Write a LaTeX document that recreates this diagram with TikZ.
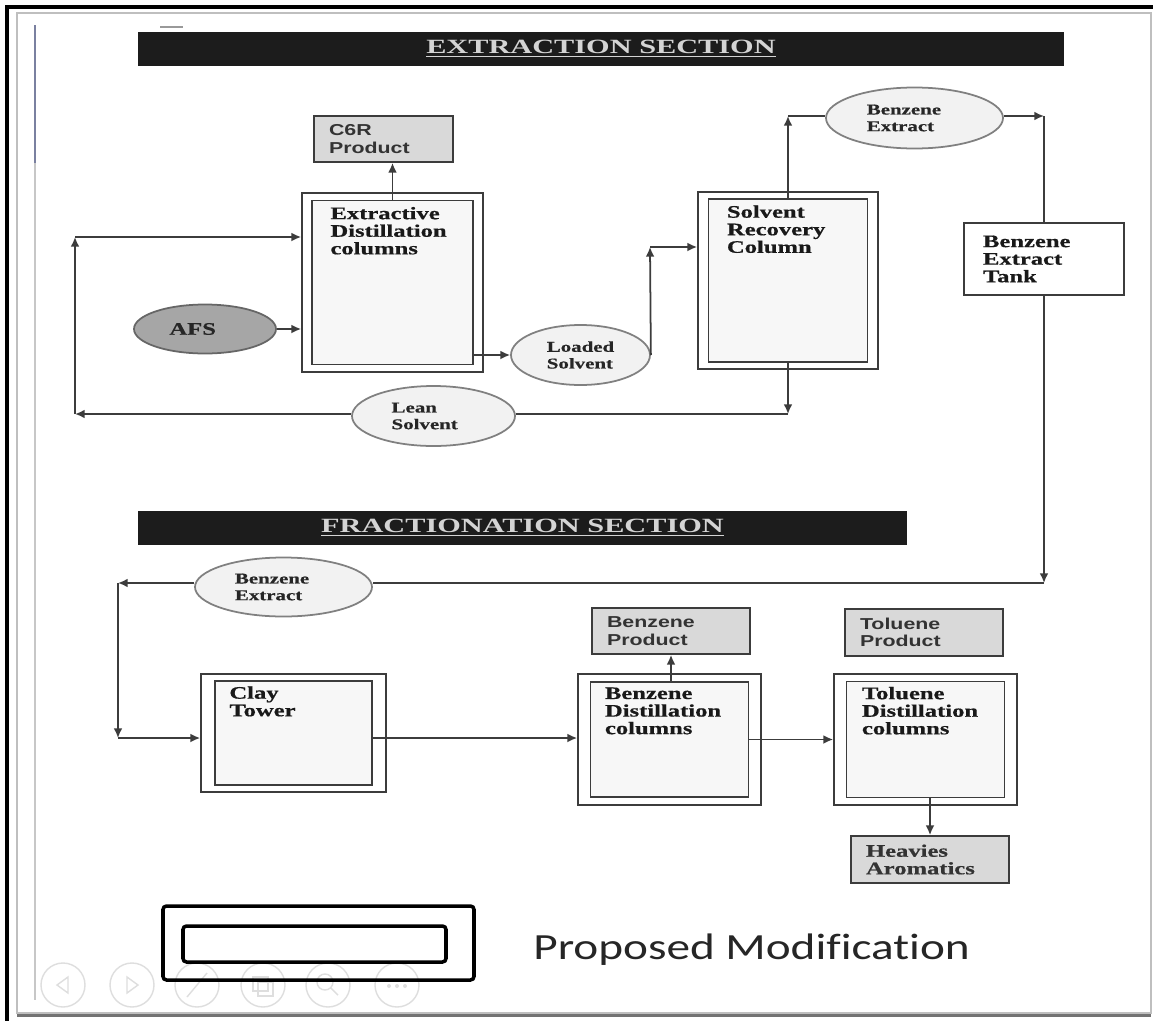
\documentclass[tikz,border=0pt]{standalone}
\usepackage{fontspec}
\setmainfont{Liberation Serif}
\newfontfamily\colfont[FakeStretch=1.4,FakeBold=0.6]{Liberation Serif}
\newfontfamily\titlefont[FakeStretch=1.5]{Liberation Serif}
\newfontfamily\prodfont[FakeStretch=1.35]{Liberation Sans}
\newfontfamily\notefont[FakeStretch=1.28,Ligatures=NoCommon]{Carlito}
\usetikzlibrary{shapes.geometric,arrows.meta}

\definecolor{linegray}{HTML}{3C3C3C}
\definecolor{prodgray}{HTML}{D9D9D9}
\definecolor{afsgray}{HTML}{A6A6A6}
\definecolor{boxwhite}{HTML}{F7F7F7}
\definecolor{ellgray}{HTML}{F2F2F2}
\definecolor{bargray}{HTML}{1C1C1C}
\definecolor{titlegray}{HTML}{D4D4D4}
\definecolor{rulerblue}{HTML}{7A80A0}

\begin{document}
\begin{tikzpicture}[x=0.02cm, y=-0.02cm,
		wh/.style 2 args={minimum width=#1*0.02cm, minimum height=#2*0.02cm},
		bar/.style={fill=bargray, text=titlegray, inner sep=0pt, font=\titlefont\bfseries\fontsize{11.5}{12}\selectfont},
		outerbox/.style={draw=linegray, line width=1pt, fill=white, inner sep=0pt},
		innerbox/.style={draw=linegray, line width=1pt, fill=boxwhite, inner sep=0pt},
		coltext/.style={inner sep=0pt, align=left, anchor=north west, text=black!90, font=\colfont\bfseries\fontsize{10}{10}\selectfont},
		prodbox/.style={draw=linegray, line width=1pt, fill=prodgray, inner xsep=0.3cm, inner ysep=0pt, align=left, text=black!80, font=\prodfont\bfseries\fontsize{9}{10}\selectfont},
		tankbox/.style={draw=linegray, line width=1pt, inner xsep=0.38cm, inner ysep=0pt, align=left, text=black!90, font=\colfont\bfseries\fontsize{10}{10}\selectfont},
		stream/.style={ellipse, draw=black!50, line width=1pt, fill=ellgray, inner sep=0pt, align=left, text=black!85, font=\colfont\bfseries\fontsize{8.5}{9.5}\selectfont},
		line/.style={draw=linegray, line width=1pt},
		flow/.style={line, -{Latex[length=5.5pt,width=5pt]}},
		navicon/.style={draw=black!13, line width=0.8pt}]
	\fill[white] (0,0) rectangle (1153,1021);
	\useasboundingbox (0,0) rectangle (1153,1021);

	% screenshot frame and slide border
	\draw[black, line width=2pt] (7,1021) -- (7,7) -- (1153,7);
	\draw[black!25, line width=1.2pt] (17,13) rectangle (1151,1013);
	\draw[black!55, line width=1.5pt] (17,1015.5) -- (1151,1015.5);
	\draw[rulerblue, line width=1.5pt] (35,25) -- (35,163);
	\draw[black!22, line width=0.8pt] (35,163) -- (35,1000);
	\draw[black!40, line width=1pt] (160,27) -- (183,27);

	% slide show buttons
	\foreach \cx in {63,132,197,263,328,397}
		\draw[navicon] (\cx,985) circle [radius=22];
	\draw[navicon] (68,977) -- (57,985) -- (68,993) -- cycle;
	\draw[navicon] (127,977) -- (138,985) -- (127,993) -- cycle;
	\draw[navicon] (187,997) -- (207,973);
	\draw[navicon] (253,977) rectangle (268,991) (258,982) rectangle (273,996);
	\draw[navicon] (325,982) circle [radius=8] (331,988) -- (338,995);
	\foreach \dx in {389,397,405}
		\fill[black!13] (\dx,986) circle [radius=2];

	% section bars
	\node[bar, wh={926}{34}] (extbar) at (601,49) {\underline{EXTRACTION SECTION}};
	\node[bar, wh={769}{34}] (fracbar) at (522.5,527.5) {\underline{FRACTIONATION SECTION}};

	% extraction section
	\node[prodbox, wh={139}{46}, text width=2.18cm] (c6r) at (383.5,139) {C6R\\Product};
	\node[outerbox, wh={181}{179}] (edc) at (392.5,282.5) {};
	\node[innerbox, wh={161}{164}] (edc-in) at (edc) {};
	\node[coltext] (edc-txt) at ([shift={(19,7)}]edc-in.north west) {Extractive\\Distillation\\columns};
	\node[outerbox, wh={180}{177}] (src) at (788,280.5) {};
	\node[innerbox, wh={159}{163}] (src-in) at (src) {};
	\node[coltext] (src-txt) at ([shift={(19,7)}]src-in.north west) {Solvent\\Recovery\\Column};
	\node[tankbox, wh={160}{72}, text width=2.44cm] (tank) at (1044,259) {Benzene\\Extract\\Tank};
	\node[stream, fill=afsgray, draw=black!60, wh={142}{49}, font=\colfont\bfseries\fontsize{10}{10}\selectfont] (afs) at (205,329) {AFS\hspace*{14pt}};
	\node[stream, wh={139}{60}] (loaded) at (580.5,355) {Loaded\\Solvent};
	\node[stream, wh={163}{60}] (lean) at (433.5,416) {Lean\\Solvent\hspace*{10pt}};
	\node[stream, wh={177}{61}] (bext1) at (914.5,118) {Benzene\hspace*{12pt}\\Extract};

	% fractionation section
	\node[stream, wh={177}{59}] (bext2) at (283.5,587) {Benzene\hspace*{13pt}\\Extract};
	\node[outerbox, wh={185}{118}] (clay) at (293.5,733) {};
	\node[innerbox, wh={157}{104}] (clay-in) at (clay) {};
	\node[coltext] (clay-txt) at ([shift={(15,6)}]clay-in.north west) {Clay\\Tower};
	\node[prodbox, wh={158}{46}, text width=2.56cm] (bprod) at (671,631) {Benzene\\Product};
	\node[outerbox, wh={183}{131}] (bdc) at (669.5,739.5) {};
	\node[innerbox, wh={158}{115}] (bdc-in) at (bdc) {};
	\node[coltext] (bdc-txt) at ([shift={(15,6)}]bdc-in.north west) {Benzene\\Distillation\\columns};
	\node[prodbox, wh={158}{47}, text width=2.56cm] (tprod) at (924,632.5) {Toluene\\Product};
	\node[outerbox, wh={183}{131}] (tdc) at (925.5,739.5) {};
	\node[innerbox, wh={158}{116}] (tdc-in) at (tdc) {};
	\node[coltext] (tdc-txt) at ([shift={(16,6)}]tdc-in.north west) {Toluene\\Distillation\\columns};
	\node[prodbox, wh={158}{47}, text width=2.56cm, font=\colfont\bfseries\fontsize{10}{10}\selectfont] (heavy) at (930,859.5) {Heavies\\Aromatics};

	% corners of the stream lines
	\coordinate (lptop) at (75,237);
	\coordinate (lpbot) at (75,414);
	\coordinate (lnr) at (788,414);
	\coordinate (ldup) at (650,247);
	\coordinate (bxup) at (788,116);
	\coordinate (tkin) at (1044,116);
	\coordinate (tkout) at (1044,583);
	\coordinate (cltop) at (118,583);
	\coordinate (clbot) at (118,738);

	% extraction streams
	\draw[flow] (edc-in.north) -- (edc-in.north |- c6r.south);
	\draw[flow] (afs.east) -- (afs.east -| edc.west);
	\draw[flow] (loaded.west -| edc-in.east) -- (loaded.west);
	\draw[flow] (loaded.east) -- (ldup);
	\draw[flow] (ldup) -- (ldup -| src.west);
	\draw[flow] (src-in.north) -- (bxup);
	\draw[line] (bxup) -- (bxup -| bext1.west);
	\draw[flow] (bxup -| bext1.east) -- (tkin);
	\draw[line] (tkin) -- (tank.north);
	\draw[flow] (src-in.south) -- (lnr);
	\draw[line] (lnr) -- (lnr -| lean.east);
	\draw[flow] (lpbot -| lean.west) -- (lpbot);
	\draw[flow] (lpbot) -- (lptop);
	\draw[flow] (lptop) -- (lptop -| edc.west);

	% fractionation streams
	\draw[flow] (tank.south) -- (tkout);
	\draw[line] (tkout) -- (tkout -| bext2.east);
	\draw[flow] (cltop -| bext2.west) -- (cltop);
	\draw[flow] (cltop) -- (clbot);
	\draw[flow] (clbot) -- (clbot -| clay.west);
	\draw[flow] (clbot -| clay-in.east) -- (clbot -| bdc.west);
	\draw[flow] (bdc-in.east) -- (bdc-in.east -| tdc.west);
	\draw[flow] (bprod.south |- bdc-in.north) -- (bprod.south);
	\draw[flow] (heavy.north |- tdc-in.south) -- (heavy.north);

	% legend
	\node[draw=black, line width=2pt, rounded corners=2pt, wh={311}{74}] (lgout) at (318.5,943) {};
	\node[draw=black, line width=2pt, rounded corners=2pt, wh={263}{36}] (lgin) at (314.5,944) {};
	\node[anchor=base west, inner sep=0pt, text=black!85, font=\notefont\fontsize{21}{24}\selectfont] (lgtxt) at (533,959) {Proposed Modification};
\end{tikzpicture}
\end{document}
